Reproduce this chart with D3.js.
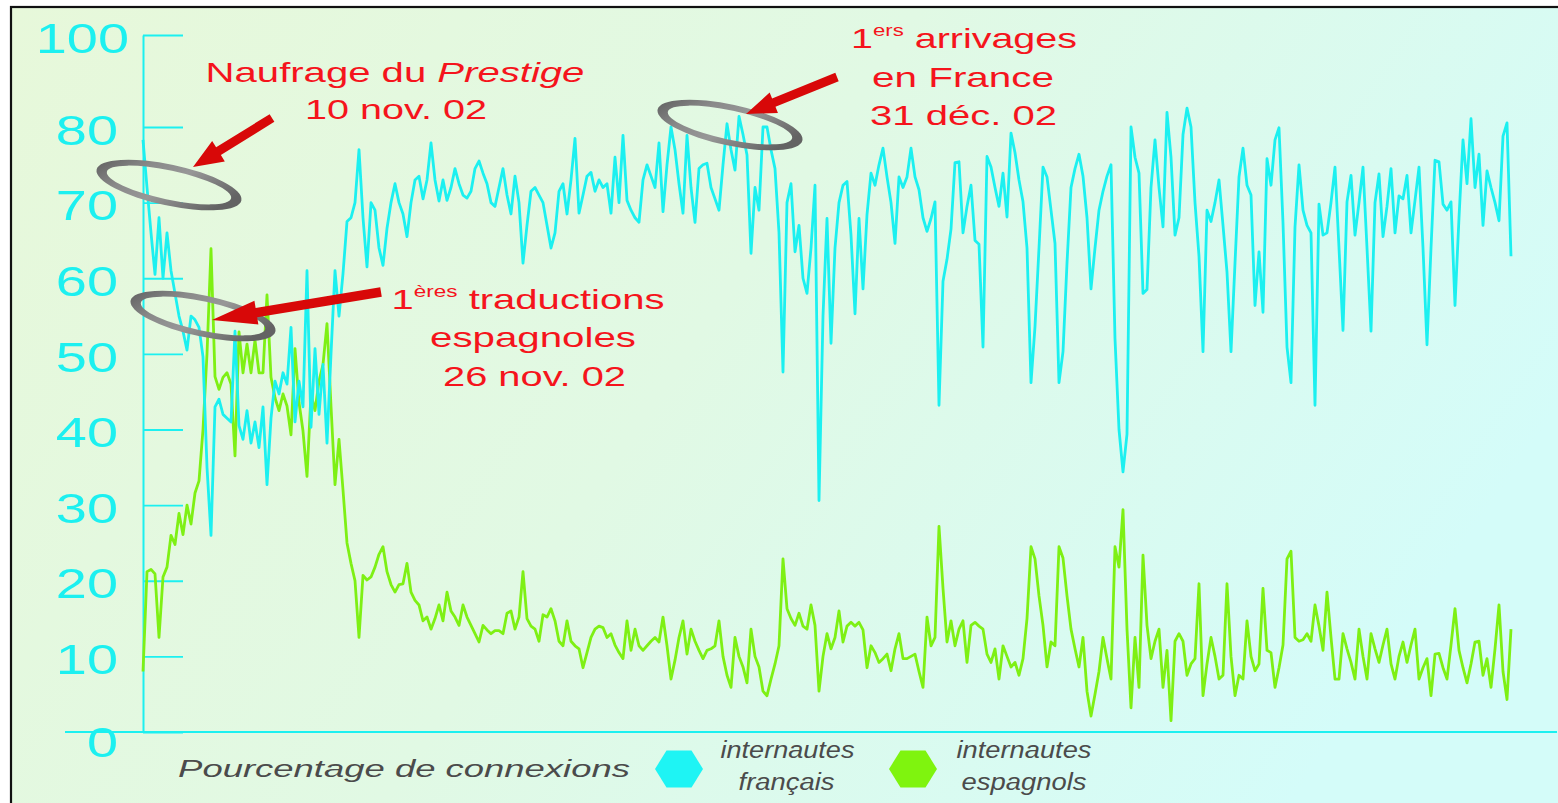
<!DOCTYPE html>
<html>
<head>
<meta charset="utf-8">
<script src="https://cdn.jsdelivr.net/npm/d3@7"></script>
<style>
  html, body { margin: 0; padding: 0; background: #ffffff; }
  svg { display: block; }
</style>
</head>
<body>
<svg id="chart" width="1558" height="803"></svg>
<script>
// Daily share of site connections (%), one value per day from 10 Nov 2002
const frenchVisitors = [
  78.3, 72, 66, 60.5, 68, 60, 66, 61, 58, 55,
  53, 50.5, 55, 54.5, 53.5, 49.6, 35, 26, 43, 44,
  42, 41.5, 41, 53, 40.5, 38.7, 42.5, 38.2, 41, 37.6,
  43, 32.7, 41.5, 46.4, 44.7, 47.5, 46, 53.5, 41, 46.4,
  43, 61, 40.3, 50.7, 42, 48.6, 38.2, 50, 61, 55,
  60.6, 67.5, 68, 70, 77, 68, 61.5, 70, 69, 64,
  61.7, 66.6, 70, 72.5, 70, 68.5, 65.5, 70, 73, 73.5,
  70.5, 73, 77.9, 73, 70.2, 73, 70.3, 72, 74.5, 72.5,
  71, 70.6, 71.5, 74.5, 75.5, 73.9, 72.5, 70, 69.5, 72,
  74.5, 71, 68.5, 73.5, 70, 62, 67, 71.5, 72, 71,
  70, 67, 64, 66, 71.5, 72.5, 68.5, 73, 78.5, 68.6,
  71, 73.5, 74, 71.5, 73, 72, 72.5, 68.6, 76, 70,
  78.9, 70.3, 69, 68, 67.4, 73, 75, 73.5, 72, 77.9,
  68.8, 75, 80, 77, 72.5, 68.6, 78.9, 72, 67.4, 74.5,
  75, 75.2, 72, 70.5, 69, 75, 80.7, 77, 74.3, 82.3,
  79, 76.3, 63.3, 72, 69, 80, 80, 77, 74.5, 66,
  47.6, 70, 72.5, 63.5, 67, 60, 58, 64, 72.3, 30.6,
  55, 67.9, 51.4, 64, 70, 72.3, 72.8, 65.7, 55.3, 67.9,
  58.6, 68.4, 73.9, 72.3, 75, 77.2, 73.4, 70, 64.6, 73.4,
  72, 73.4, 77.2, 73.4, 71.7, 68, 66.2, 67.9, 70.1, 43.2,
  59.6, 62.5, 66.5, 75.3, 75.4, 66, 69.5, 72.3, 65, 64.5,
  50.9, 76.1, 74.7, 72, 69.5, 73.9, 68.1, 79.2, 76.6, 73,
  70.1, 64, 46.2, 53.6, 64, 74.7, 73.4, 69, 64.6, 46.2,
  50.3, 62, 72, 74.5, 76.4, 73.5, 68, 58.6, 64, 69,
  71.5, 73.5, 75, 52, 40, 34.4, 39.4, 80, 76, 73.9,
  58, 58.5, 72, 78.3, 72, 66.8, 83.2, 76, 65.7, 68,
  79, 84.1, 80, 70, 62.9, 50.3, 69, 67.5, 70, 73,
  67, 60.8, 50.3, 62, 73.4, 77.2, 72.3, 71, 56.4, 63.5,
  55.5, 75.8, 72.3, 78.3, 79.9, 67.3, 50.9, 46.2, 66.8, 75,
  69, 67, 66, 43.2, 69.8, 65.7, 66, 70, 74.7, 64,
  53.1, 70.1, 73.6, 65.7, 70, 74.7, 64, 53, 70, 73.8,
  65.5, 69.5, 74.5, 66, 70.9, 70.5, 73.6, 66, 70.3, 74.7,
  64, 51.2, 64, 75.6, 75.4, 69.8, 69, 70.1, 56.4, 68,
  78.3, 72.5, 81.8, 72, 76.4, 67, 74.2, 72, 70, 67.6,
  78.8, 80.9, 62.9
];

const spanishVisitors = [
  8, 21.2, 21.5, 20.9, 12.5, 20.5, 21.8, 26, 24.8, 28.9,
  26.1, 30, 27.5, 31.6, 33.2, 40, 50, 63.9, 47, 45.3,
  46.9, 47.5, 46, 36.5, 52.9, 47.5, 51.3, 47.5, 51.8, 47.5,
  47.5, 57.8, 46.9, 44.2, 42.5, 44.7, 43.1, 39.3, 50.7, 43.6,
  39.8, 33.8, 44.7, 42.5, 46.4, 48.6, 54, 43.1, 32.7, 38.7,
  32, 25, 22.3, 20, 12.5, 20.7, 20.1, 20.5, 21.8, 23.5,
  24.5, 21.2, 19.5, 18.5, 19.5, 19.6, 22.3, 18.5, 17.4, 16.8,
  14.7, 15.2, 13.6, 15, 16.8, 14.7, 18.5, 16, 15.2, 14.1,
  16.8, 15.2, 14.1, 13, 11.9, 14.1, 13.5, 13, 13.4, 13.4,
  13, 15.7, 16, 13.6, 15.2, 21.2, 15, 14, 13.6, 12,
  15.5, 15.2, 16.3, 14.7, 12, 11.4, 14.7, 12, 11.4, 11,
  8.5, 10.5, 12.5, 13.6, 14, 13.8, 12.5, 13, 11.5, 10.5,
  9.7, 14.7, 10.8, 13.6, 11.4, 10.8, 11.4, 12, 12.5, 11.9,
  15.2, 11.4, 7, 9.5, 12.5, 14.7, 10.3, 13.6, 12, 10.8,
  9.7, 10.8, 11, 11.4, 14.7, 10, 7.5, 5.9, 12.5, 10,
  8.6, 6.5, 13.6, 10, 8.6, 5.4, 4.8, 7, 9, 11.4,
  22.9, 16.3, 15, 14.1, 15.7, 14, 13.6, 16.8, 14.1, 5.4,
  10, 13, 11, 12.5, 16, 11.9, 14, 14.5, 14, 14.5,
  13.5, 8.5, 11.4, 10.5, 9.2, 9.7, 10.3, 8.1, 11, 13,
  9.7, 9.7, 10, 10.3, 8, 5.9, 15.2, 11.4, 12.5, 27.2,
  19, 11.9, 14.7, 11.4, 13.6, 14.7, 9.2, 14.1, 14.5, 14,
  13.6, 10.3, 9.2, 11, 7, 11.4, 10, 8.6, 9.2, 7.5,
  9.7, 15, 24.5, 22.9, 18, 14.1, 8.6, 11.9, 11.4, 24.5,
  23, 18, 13.6, 11, 8.6, 12.5, 5.4, 2.1, 5, 8,
  12.5, 9.7, 7, 24.5, 21.8, 29.4, 13.6, 3.2, 12.5, 5.9,
  23.4, 14.1, 9.7, 12, 13.6, 5.9, 10.8, 1.5, 12, 13,
  12, 7.5, 9, 9.7, 19.6, 4.8, 9, 12.5, 10, 7,
  7.5, 19.6, 10, 4.8, 7.5, 7, 14.7, 10, 8.1, 9,
  19, 10.8, 10.5, 5.9, 8.5, 11.5, 22.9, 23.9, 12.5, 12,
  12.2, 13, 12, 16.8, 14, 10.8, 18.5, 12.5, 7, 7,
  13, 11, 9.2, 7, 13.6, 10, 7, 13, 11, 9.2,
  11.5, 13.6, 9, 7, 10, 11.9, 9.2, 11.5, 13.6, 7,
  8.5, 9.7, 4.8, 10.3, 10.4, 8.5, 7, 11.5, 16.3, 10.8,
  8.5, 6.5, 9, 11.9, 12, 7.5, 9.7, 5.9, 11, 16.8,
  8, 4.3, 13.6
];

const tickValues = [0, 10, 20, 30, 40, 50, 60, 70, 80, 100];
const tickLabels = ["0", "10", "20", "30", "40", "50", "60", "70", "80", "100"];

const axisTitle = "Pourcentage de connexions";
const seriesLabels = [["internautes", "français"], ["internautes", "espagnols"]];

const eventShipwreck = ["Naufrage du ", "Prestige", "10 nov. 02"];
const eventTranslations = ["1", "ères", " traductions", "espagnoles", "26 nov. 02"];
const eventArrivals = ["1", "ers", " arrivages", "en France", "31 déc. 02"];

// ---------------------------------------------------------------------------
const FONT = "'Liberation Sans', Arial, Helvetica, sans-serif";
const CYAN = "#1cf0f0";
const GREEN = "#7ef014";
const RED_TEXT = "#f5141c";
const RED_ARROW = "#d80808";
const GREY_TEXT = "#4b4b4b";

const svg = d3.select("#chart");
const defs = svg.append("defs");

const bg = defs.append("linearGradient").attr("id", "bgGrad")
  .attr("x1", 0).attr("y1", 0).attr("x2", 1).attr("y2", 0.35);
bg.append("stop").attr("offset", 0).attr("stop-color", "#e7f8da");
bg.append("stop").attr("offset", 0.5).attr("stop-color", "#e1f9e4");
bg.append("stop").attr("offset", 1).attr("stop-color", "#d4fcf9");

const ringGrad = defs.append("linearGradient").attr("id", "ringGrad")
  .attr("x1", 0).attr("y1", 0).attr("x2", 1).attr("y2", 0.3);
ringGrad.append("stop").attr("offset", 0).attr("stop-color", "#585858");
ringGrad.append("stop").attr("offset", 0.35).attr("stop-color", "#8a8a8a");
ringGrad.append("stop").attr("offset", 0.6).attr("stop-color", "#979797");
ringGrad.append("stop").attr("offset", 1).attr("stop-color", "#636363");

// panel with frame
svg.append("rect")
  .attr("x", 11).attr("y", 7).attr("width", 1620).attr("height", 840)
  .attr("fill", "url(#bgGrad)")
  .attr("stroke", "#111").attr("stroke-width", 2.2);

// scales
const x = d3.scaleLinear().domain([0, frenchVisitors.length - 1]).range([143, 1511]);
const y = d3.scaleLinear().domain([0, 80, 100]).range([732, 127, 35]);

// y axis (ticks point inward)
const yAxis = d3.axisRight(y).tickValues(tickValues).tickSize(40).tickSizeOuter(0).tickFormat("");
const gAxis = svg.append("g").attr("transform", "translate(143,0)").call(yAxis);
gAxis.select(".domain").attr("stroke", CYAN).attr("stroke-width", 2);
gAxis.selectAll(".tick line").attr("stroke", CYAN).attr("stroke-width", 1.8);

// baseline
svg.append("line")
  .attr("x1", 65).attr("x2", 1557).attr("y1", y(0)).attr("y2", y(0))
  .attr("stroke", CYAN).attr("stroke-width", 2);

// tick labels
svg.append("g").selectAll("text").data(tickValues).join("text")
  .attr("transform", (d, i) => {
    const ax = d === 100 ? 129 : 118;
    const dy = d === 0 ? 10 : 3;
    return `translate(${ax},${y(d) + dy}) scale(1.3,1)`;
  })
  .attr("text-anchor", "end")
  .attr("dominant-baseline", "central")
  .attr("font-family", FONT).attr("font-size", 43)
  .attr("fill", CYAN)
  .text((d, i) => tickLabels[i]);

// series lines
const line = d3.line().x((d, i) => x(i)).y(d => y(d));
svg.append("path").datum(spanishVisitors)
  .attr("d", line).attr("fill", "none")
  .attr("stroke", GREEN).attr("stroke-width", 2.8).attr("stroke-linejoin", "round");
svg.append("path").datum(frenchVisitors)
  .attr("d", line).attr("fill", "none")
  .attr("stroke", CYAN).attr("stroke-width", 2.8).attr("stroke-linejoin", "round");

// grey rings marking the events
function ring(cx, cy) {
  const ell = (rx, ry) => `M${-rx},0a${rx},${ry} 0 1,0 ${2 * rx},0a${rx},${ry} 0 1,0 ${-2 * rx},0Z`;
  svg.append("path")
    .attr("d", ell(74, 20.5) + ell(63.5, 14.5))
    .attr("fill-rule", "evenodd")
    .attr("fill", "url(#ringGrad)")
    .attr("transform", `translate(${cx},${cy}) rotate(12)`);
}
ring(169, 185);
ring(203, 316);
ring(730, 125);

// red arrows
function arrow(x0, y0, x1, y1, shaft, headW, headL) {
  const dx = x1 - x0, dy = y1 - y0, L = Math.hypot(dx, dy);
  const ux = dx / L, uy = dy / L, px = -uy, py = ux;
  const bx = x1 - ux * headL, by = y1 - uy * headL;
  const pts = [
    [x0 + px * shaft / 2, y0 + py * shaft / 2],
    [bx + px * shaft / 2, by + py * shaft / 2],
    [bx + px * headW / 2, by + py * headW / 2],
    [x1, y1],
    [bx - px * headW / 2, by - py * headW / 2],
    [bx - px * shaft / 2, by - py * shaft / 2],
    [x0 - px * shaft / 2, y0 - py * shaft / 2]
  ];
  svg.append("polygon").attr("points", pts.map(p => p.join(",")).join(" "))
    .attr("fill", RED_ARROW);
}
arrow(272, 118, 193, 167, 9, 24, 30);
arrow(381, 292, 212, 320, 9.5, 24, 45);
arrow(837, 77, 746, 114, 9, 22, 30);

// text helper: draws a line, then stretches it horizontally to a given width
function fitLine(parts, cx, baseline, width, size, fill, italicAll) {
  const t = svg.append("text")
    .attr("x", 0).attr("y", 0)
    .attr("text-anchor", "middle")
    .attr("font-family", FONT).attr("font-size", size)
    .attr("fill", fill)
    .attr("font-style", italicAll ? "italic" : "normal");
  parts.forEach(p => {
    const s = t.append("tspan").text(p.text);
    if (p.italic) s.attr("font-style", "italic");
    if (p.sup) s.attr("font-size", p.sup).attr("dy", -12);
    if (p.down) s.attr("dy", 12);
  });
  const w = t.node().getBBox().width;
  t.attr("transform", `translate(${cx},${baseline}) scale(${width / w},1)`);
  return t;
}

// event annotations
fitLine([{ text: eventShipwreck[0] }, { text: eventShipwreck[1], italic: true }], 395, 82, 379, 28.5, RED_TEXT);
fitLine([{ text: eventShipwreck[2] }], 396, 119, 182, 28.5, RED_TEXT);

fitLine([{ text: eventTranslations[0] }, { text: eventTranslations[1], sup: 16 }, { text: eventTranslations[2], down: true }],
  528, 309, 273, 28.5, RED_TEXT);
fitLine([{ text: eventTranslations[3] }], 533, 347, 206, 28.5, RED_TEXT);
fitLine([{ text: eventTranslations[4] }], 534.5, 386, 183, 28.5, RED_TEXT);

fitLine([{ text: eventArrivals[0] }, { text: eventArrivals[1], sup: 16 }, { text: eventArrivals[2], down: true }],
  964, 48, 226, 28.5, RED_TEXT);
fitLine([{ text: eventArrivals[3] }], 963, 87, 182, 28.5, RED_TEXT);
fitLine([{ text: eventArrivals[4] }], 963.5, 125, 187, 28.5, RED_TEXT);

// legend
fitLine([{ text: axisTitle }], 404, 777, 452, 24.5, GREY_TEXT, true);

function hexagon(cx, cy, color) {
  const hw = 24, fw = 12.5, hh = 18.5;
  const pts = [[cx - hw, cy], [cx - fw, cy - hh], [cx + fw, cy - hh], [cx + hw, cy], [cx + fw, cy + hh], [cx - fw, cy + hh]];
  svg.append("polygon").attr("points", pts.map(p => p.join(",")).join(" ")).attr("fill", color);
}
hexagon(679, 769, "#1ef4f4");
hexagon(913, 769, "#7ff40e");

fitLine([{ text: seriesLabels[0][0] }], 787.5, 758, 134, 24.5, GREY_TEXT, true);
fitLine([{ text: seriesLabels[0][1] }], 786.5, 790, 96, 24.5, GREY_TEXT, true);
fitLine([{ text: seriesLabels[1][0] }], 1024, 758, 135, 24.5, GREY_TEXT, true);
fitLine([{ text: seriesLabels[1][1] }], 1024, 790, 125, 24.5, GREY_TEXT, true);
</script>
</body>
</html>
